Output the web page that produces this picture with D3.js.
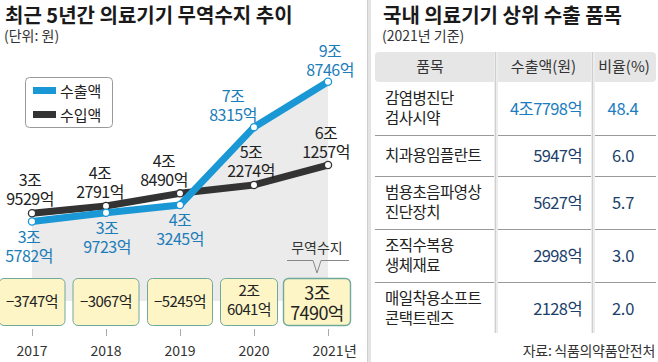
<!DOCTYPE html>
<html>
<head>
<meta charset="utf-8">
<script src="https://cdn.jsdelivr.net/npm/d3@7"></script>
<style>
body{margin:0;background:#fff;}
svg{display:block;font-family:"Noto Sans CJK KR","Noto Sans",sans-serif;}
</style>
</head>
<body>
<svg id="chart" width="658" height="362"></svg>
<script>
// data (억원)
var years = ["2017", "2018", "2019", "2020", "2021"];
var exportVals = [35782, 39723, 43245, 78315, 98746];
var importVals = [39529, 42791, 48490, 52274, 61257];
var balanceVals = [-3747, -3067, -5245, 26041, 37490];
var seriesNames = ["수출액", "수입액"];

var items = [["감염병진단", "검사시약"], ["치과용임플란트"], ["범용초음파영상", "진단장치"], ["조직수복용", "생체재료"], ["매일착용소프트", "콘택트렌즈"]];
var amounts = [47798, 5947, 5627, 2998, 2128];
var shares = ["48.4", "6.0", "5.7", "3.0", "2.0"];
var headers = ["품목", "수출액(원)", "비율(%)"];

// layout tweaks for labels / boxes
var expOff = [[-3, 21], [1, 21], [0, 21], [-21, -25], [2, -25]];
var impOff = [[-2, -27], [-6, -27], [-16, -26], [-3, -27], [-2, -26]];
var boxShift = [0, 0, 0, -5, -11];
var boxW = [67, 67, 66, 58, 68];

var blue = "#1a97d5", blueText = "#1b7db9", dark = "#333";

var svg = d3.select("#chart");

function fmt(v) {
	var sign = v < 0 ? "−" : "";
	v = Math.abs(v);
	var jo = Math.floor(v / 10000), eok = v % 10000;
	if (jo > 0) return [jo + "조", eok + "억"];
	return [sign + eok + "억"];
}

// ---------- left panel ----------
var x = d3.scalePoint().domain(years).range([32, 328]);
var y = d3.scaleLinear().domain([0, 100000]).range([301, 79]);

svg.append("text").attr("x", 5).attr("y", 23)
	.attr("font-size", 20).attr("font-weight", 700).attr("fill", "#1a1a1a")
	.text("최근 5년간 의료기기 무역수지 추이");
svg.append("text").attr("x", 4).attr("y", 41)
	.attr("font-size", 14).attr("fill", "#333")
	.text("(단위: 원)");

var area = d3.area()
	.x(function (d, i) { return x(years[i]); })
	.y0(y(0))
	.y1(function (d) { return y(d); });
svg.append("path").datum(exportVals).attr("d", area).attr("fill", "#ebebeb");

var line = d3.line().x(function (d, i) { return x(years[i]); }).y(function (d) { return y(d); });

svg.append("path").datum(importVals).attr("d", line)
	.attr("fill", "none").attr("stroke", dark).attr("stroke-width", 7).attr("stroke-linejoin", "round");
svg.append("path").datum(exportVals).attr("d", line)
	.attr("fill", "none").attr("stroke", blue).attr("stroke-width", 7).attr("stroke-linejoin", "round");

function dots(vals, col) {
	svg.selectAll(null).data(vals).enter().append("circle")
		.attr("cx", function (d, i) { return x(years[i]); })
		.attr("cy", function (d) { return y(d); })
		.attr("r", 3.6).attr("fill", "#fff").attr("stroke", col).attr("stroke-width", 1.3);
}
dots(importVals, dark);
dots(exportVals, blue);

function labels(vals, off, col) {
	vals.forEach(function (v, i) {
		var t = svg.append("text").attr("text-anchor", "middle")
			.attr("font-size", 16).attr("letter-spacing", -0.5).attr("fill", col);
		fmt(v).forEach(function (s, k) {
			t.append("tspan").attr("x", x(years[i]) + off[i][0])
				.attr("y", y(v) + off[i][1] + k * 19).text(s);
		});
	});
}
labels(importVals, impOff, "#222");
labels(exportVals, expOff, blueText);

// legend
svg.append("rect").attr("x", 25.5).attr("y", 77.5).attr("width", 87).attr("height", 50).attr("rx", 4)
	.attr("fill", "#fff").attr("stroke", "#999");
seriesNames.forEach(function (n, i) {
	svg.append("rect").attr("x", 33).attr("y", 87 + i * 24).attr("width", 23).attr("height", 7)
		.attr("fill", i == 0 ? blue : dark);
	svg.append("text").attr("x", 60).attr("y", 97 + i * 24)
		.attr("font-size", 15).attr("fill", "#222").text(n);
});

// balance boxes
balanceVals.forEach(function (v, i) {
	var cx = x(years[i]) + boxShift[i];
	var last = i == balanceVals.length - 1;
	svg.append("rect").attr("x", cx - boxW[i] / 2 + 0.5).attr("y", 278.5)
		.attr("width", boxW[i] - 1).attr("height", 47).attr("rx", 5)
		.attr("fill", "#fdf5c6").attr("stroke", "#6fa99c").attr("stroke-width", last ? 1.4 : 1);
	var parts = fmt(v);
	var fs = last ? 18 : 15;
	var t = svg.append("text").attr("text-anchor", "middle").attr("font-size", fs)
		.attr("letter-spacing", -0.6).attr("fill", "#222");
	parts.forEach(function (s, k) {
		var yy = parts.length == 1 ? 307 : (last ? 300 + k * 20 : 296 + k * 19);
		t.append("tspan").attr("x", cx).attr("y", yy).text(s);
	});
});

// 무역수지 callout
var cx5 = x(years[4]) + boxShift[4];
svg.append("text").attr("x", cx5).attr("y", 253).attr("text-anchor", "middle")
	.attr("font-size", 14).attr("fill", "#333").text("무역수지");
svg.append("path")
	.attr("d", "M" + (cx5 - 30) + ",260.5H" + (cx5 - 4) + "L" + cx5 + ",273L" + (cx5 + 4) + ",260.5H" + (cx5 + 32))
	.attr("fill", "none").attr("stroke", "#888");

// year axis
svg.selectAll(null).data(years).enter().append("line")
	.attr("x1", function (d) { return x(d) + 0.5; }).attr("x2", function (d) { return x(d) + 0.5; })
	.attr("y1", 329).attr("y2", 336).attr("stroke", "#aaa");
svg.selectAll(null).data(years).enter().append("text")
	.attr("x", function (d) { return x(d); }).attr("y", 356)
	.attr("text-anchor", "middle").attr("font-size", 14).attr("font-weight", 400).attr("fill", "#333")
	.text(function (d) { return d; });
svg.append("text").attr("x", x(years[4]) + 16).attr("y", 356)
	.attr("font-size", 14).attr("fill", "#333").text("년");

// divider
svg.append("rect").attr("x", 367).attr("y", 0).attr("width", 4).attr("height", 362).attr("fill", "#e4e4e4");
svg.append("line").attr("x1", 367.5).attr("x2", 367.5).attr("y1", 0).attr("y2", 362).attr("stroke", "#cfcfcf");

// ---------- right panel ----------
svg.append("text").attr("x", 383).attr("y", 23)
	.attr("font-size", 20).attr("font-weight", 700).attr("fill", "#1a1a1a")
	.text("국내 의료기기 상위 수출 품목");
svg.append("text").attr("x", 382).attr("y", 41)
	.attr("font-size", 14).attr("fill", "#333").text("(2021년 기준)");

var tblL = 375, tblR = 656, col1 = 495, col2 = 592;
svg.append("rect").attr("x", tblL).attr("y", 52).attr("width", tblR - tblL).attr("height", 30).attr("rx", 4)
	.attr("fill", "#e6e6e6");
var headX = [(tblL + col1) / 2 - 5, (col1 + col2) / 2, (col2 + tblR) / 2];
headers.forEach(function (h, i) {
	svg.append("text").attr("x", headX[i]).attr("y", 72).attr("text-anchor", "middle")
		.attr("font-size", 15).attr("fill", "#333").text(h);
});

var rowTop = 82;
items.forEach(function (lines, i) {
	var h = lines.length == 2 ? 53 : 41;
	var cy = rowTop + h / 2;
	var t = svg.append("text").attr("font-size", 15.5).attr("letter-spacing", -0.5).attr("fill", "#222");
	lines.forEach(function (s, k) {
		t.append("tspan").attr("x", 385).attr("y", lines.length == 2 ? cy - 5 + k * 20 : cy + 5).text(s);
	});
	var col = i == 0 ? "#1b7dc0" : "#1c3f6b";
	var amt = amounts[i] >= 10000 ? Math.floor(amounts[i] / 10000) + "조" + (amounts[i] % 10000) + "억" : amounts[i] + "억";
	svg.append("text").attr("x", 582).attr("y", cy + 6).attr("text-anchor", "end")
		.attr("font-size", 16.5).attr("letter-spacing", -0.6).attr("fill", col).text(amt);
	svg.append("text").attr("x", 623).attr("y", cy + 6).attr("text-anchor", "middle")
		.attr("font-size", 16.5).attr("letter-spacing", -0.3).attr("fill", col).text(shares[i]);
	rowTop += h;
	if (i < items.length - 1) {
		svg.append("line").attr("x1", tblL).attr("x2", tblR).attr("y1", rowTop + 0.5).attr("y2", rowTop + 0.5)
			.attr("stroke", "#9a9a9a");
	}
});

[col1, col2].forEach(function (cx) {
	svg.append("rect").attr("x", cx - 1).attr("y", 52).attr("width", 4).attr("height", 281).attr("fill", "#ececec");
	svg.append("line").attr("x1", cx + 0.5).attr("x2", cx + 0.5).attr("y1", 52).attr("y2", 333).attr("stroke", "#cfcfcf");
});

svg.append("text").attr("x", 655).attr("y", 356).attr("text-anchor", "end")
	.attr("font-size", 14).attr("letter-spacing", -0.3).attr("fill", "#333").text("자료: 식품의약품안전처");
</script>
</body>
</html>
